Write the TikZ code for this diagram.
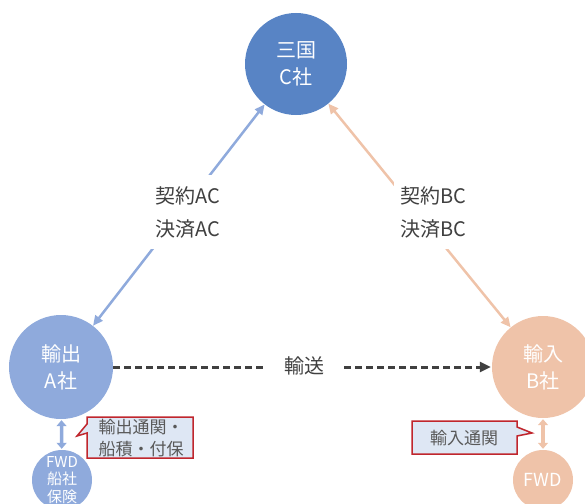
\documentclass[tikz,border=0pt]{standalone}
\usepackage{fontspec}
\setmainfont{Noto Sans CJK JP}
\usetikzlibrary{arrows.meta}
\definecolor{cC}{HTML}{5884C5}
\definecolor{cA}{HTML}{8FAADC}
\definecolor{cB}{HTML}{EFC3A9}
\definecolor{txt}{HTML}{404040}
\definecolor{calfill}{HTML}{DEE7F4}
\definecolor{calline}{HTML}{C0262D}
\definecolor{caltxt}{HTML}{595959}
\tikzset{
  bigcirc/.style={circle, inner sep=0pt, minimum size=#1, text=white, align=center,
    font=\fontsize{20}{27}\selectfont},
  smallcirc/.style={circle, inner sep=0pt, minimum size=60pt, text=white, align=center},
  lbl/.style={fill=white, text=txt, align=center, inner sep=1pt, font=\fontsize{20}{33}\selectfont},
  relarrow/.style={line width=2.5pt, {Triangle[length=10pt,width=9pt]}-{Triangle[length=10pt,width=9pt]}},
  dblarrow/.style={line width=3.5pt, {Triangle[length=6pt,width=10pt]}-{Triangle[length=6pt,width=10pt]}, shorten <=1pt, shorten >=1pt},
  transarrow/.style={line width=3pt, txt, dash pattern=on 7pt off 4pt, -{Triangle[length=11pt,width=10pt]}, shorten >=1pt},
  calloutbox/.style={fill=calfill, draw=calline, line width=1.5pt, line join=miter},
  caltext/.style={text=caltxt, align=center, inner sep=0pt, font=\fontsize{17}{22}\selectfont}
}
\begin{document}
\begin{tikzpicture}[x=1pt,y=-1pt]
\useasboundingbox (0,0) rectangle (585,503);
\clip (0,0) rectangle (585,503);

% main circles
\node[bigcirc=102pt, fill=cC] (C) at (296,64) {三国\\C社};
\node[bigcirc=104pt, fill=cA] (A) at (61,367) {輸出\\A社};
\node[bigcirc=102pt, fill=cB] (B) at (543,367) {輸入\\B社};

% FWD circles
\node[smallcirc, fill=cA, font=\fontsize{15}{17.5}\selectfont] (FA) at (62,480) {FWD\\船社\\保険};
\node[smallcirc, fill=cB, font=\fontsize{18}{20}\selectfont] (FB) at (543,480) {FWD};

% relation arrows
\draw[relarrow, cA] (A) -- (C);
\draw[relarrow, cB] (B) -- (C);
\node[lbl, minimum height=74pt, minimum width=78pt] (lAC) at (188,212) {契約AC\\決済AC};
\node[lbl, minimum height=74pt, minimum width=78pt] (lBC) at (433,212) {契約BC\\決済BC};

% transport
\draw[transarrow] (A) -- (B);
\node[lbl, minimum width=74pt, minimum height=24pt] (lT) at (304,366) {輸送};

% FWD double arrows
\draw[dblarrow, cA] (A) -- (FA);
\draw[dblarrow, cB] (B) -- (FB);

% callouts
\draw[calloutbox] (87,417) -- (193,417) -- (193,458) -- (87,458) -- (87,433) -- (77,436) -- (87,424) -- cycle;
\node[caltext] (calA) at (141,438) {輸出通関・\\船積・付保};
\draw[calloutbox] (412,421) -- (517,421) -- (517,427) -- (532,433) -- (517,436) -- (517,454) -- (412,454) -- cycle;
\node[caltext] (calB) at (464,438) {輸入通関};
\end{tikzpicture}
\end{document}
